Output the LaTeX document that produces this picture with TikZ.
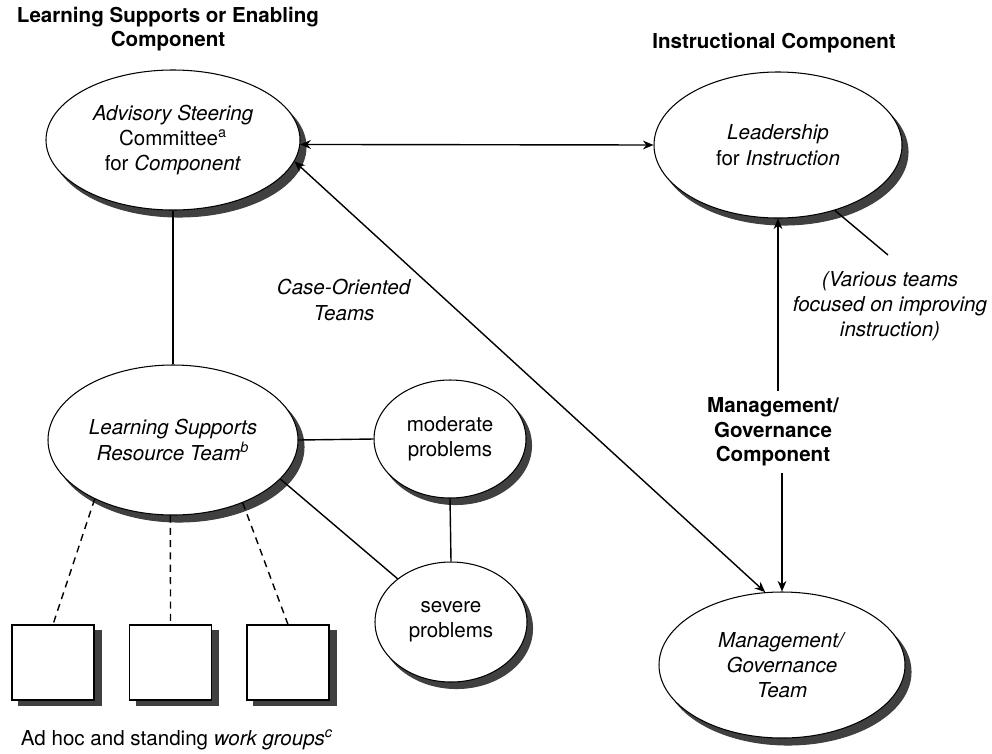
\documentclass[tikz,border=0pt]{standalone}
\usepackage{fontspec}
\setmainfont{TeX Gyre Heros}
\usetikzlibrary{shapes.geometric,arrows.meta}

\begin{document}
\begin{tikzpicture}[>={Stealth[length=6pt,width=5pt]}, line width=.8pt,
  every node/.style={align=center, font=\fontsize{11.7}{14.4}\selectfont},
  heading/.style={font=\fontsize{11.7}{14}\selectfont\bfseries},
  team/.style={draw, ellipse, fill=white, inner sep=0pt, line width=.6pt},
  teamshadow/.style={draw=black!75, line width=.6pt, ellipse, fill=black!75, inner sep=0pt},
  group/.style={draw, rectangle, fill=white, line width=.6pt, minimum width=1.64cm, minimum height=1.5cm},
  groupshadow/.style={draw=black!75, line width=.6pt, rectangle, fill=black!75, minimum width=1.64cm, minimum height=1.5cm}]
\useasboundingbox (0,0) rectangle (19.84,-15.06);
\node[heading] (lsc) at (3.36,-0.58) {Learning Supports or Enabling\\Component};
\node[heading] (ic) at (15.48,-0.86) {Instructional Component};
% shadows first
\node[teamshadow, minimum width=5.08cm, minimum height=2.8cm] (adv-s) at (3.58,-2.94) {};
\node[teamshadow, minimum width=4.96cm, minimum height=2.92cm] (lead-s) at (15.68,-3.04) {};
\node[teamshadow, minimum width=5cm, minimum height=3cm] (lsrt-s) at (3.58,-8.94) {};
\node[teamshadow, minimum width=3.04cm, minimum height=2.36cm] (mod-s) at (9.11,-8.91) {};
\node[teamshadow, minimum width=3.04cm, minimum height=2.4cm] (sev-s) at (9.13,-12.57) {};
\node[teamshadow, minimum width=4.92cm, minimum height=2.92cm] (mgt-s) at (15.76,-13.44) {};
\node[groupshadow] (g1-s) at (1.2,-13.36) {};
\node[groupshadow] (g2-s) at (3.55,-13.36) {};
\node[groupshadow] (g3-s) at (5.9,-13.36) {};
% teams
\node[team, minimum width=5.08cm, minimum height=2.8cm] (adv) at (3.46,-2.8) {\textit{Advisory Steering}\\Committee\textsuperscript{a}\\for \textit{Component}};
\node[team, minimum width=4.96cm, minimum height=2.92cm] (lead) at (15.56,-2.9) {\textit{Leadership}\\for \textit{Instruction}};
\node[team, minimum width=5cm, minimum height=3cm] (lsrt) at (3.46,-8.8) {\textit{Learning Supports}\\\textit{Resource Team\textsuperscript{b}}};
\node[team, minimum width=3.04cm, minimum height=2.36cm] (mod) at (9.0,-8.78) {moderate\\problems};
\node[team, minimum width=3.04cm, minimum height=2.4cm] (sev) at (9.02,-12.44) {severe\\problems};
\node[team, minimum width=4.92cm, minimum height=2.92cm] (mgt) at (15.64,-13.3) {\textit{Management/}\\\textit{Governance}\\\textit{Team}};
\node[group] (g1) at (1.06,-13.25) {};
\node[group] (g2) at (3.41,-13.25) {};
\node[group] (g3) at (5.76,-13.25) {};
\node (wg) at (3.54,-14.8) {Ad hoc and standing \textit{work groups\textsuperscript{c}}};
\node (cot) at (6.88,-6.0) {\textit{Case-Oriented}\\\textit{Teams}};
\node (var) at (17.8,-6.12) {\textit{(Various teams}\\\textit{focused on improving}\\\textit{instruction)}};
\node[heading] (mgc) at (15.46,-8.64) {Management/\\Governance\\Component};
\coordinate (vt) at (17.76,-5.1);
% connectors
\draw[<->] (adv.-2) -- (lead.west);
\draw[<->] (adv.-10) -- (mgt.103);
\draw[->] (lead.south |- mgc.north) -- (lead.south);
\draw[->] (mgc.south -| mgt.north) -- (mgt.north);
\draw (lead.-49) -- (vt);
\draw (adv.south) -- (lsrt.north);
\draw (lsrt.east) -- (mod.west);
\draw (lsrt.-20) -- (sev.141);
\draw (mod.south) -- (sev.north);
\draw[dash pattern=on 4pt off 3pt] (lsrt.217) -- (g1.north);
\draw[dash pattern=on 4pt off 3pt] (lsrt.-92) -- (g2.north);
\draw[dash pattern=on 4pt off 3pt] (lsrt.-42) -- (g3.north);
\end{tikzpicture}
\end{document}
